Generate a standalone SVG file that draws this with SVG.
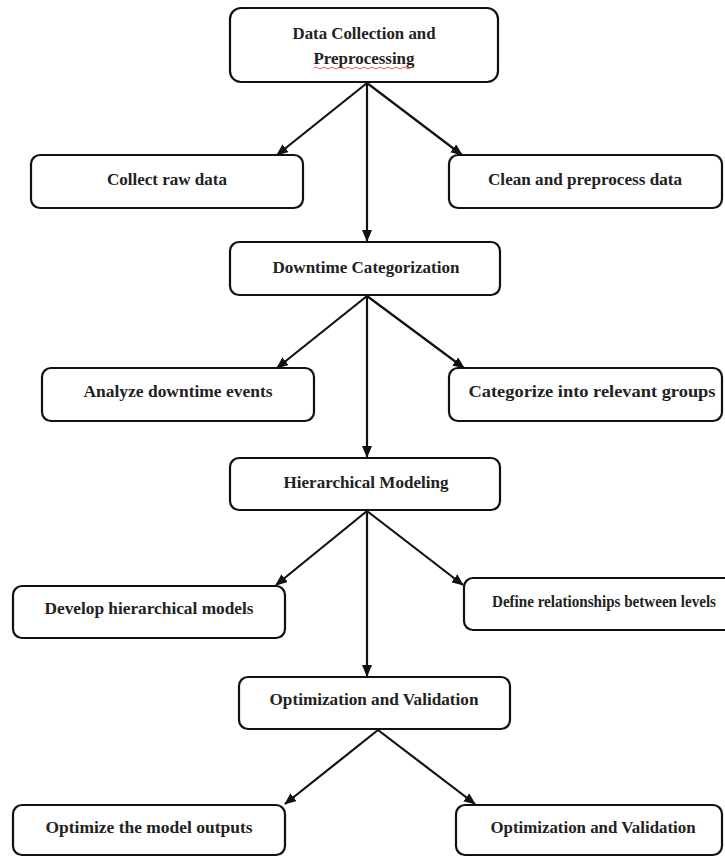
<svg xmlns="http://www.w3.org/2000/svg" width="725" height="857" viewBox="0 0 725 857">
<style>
.box{fill:#fff;stroke:#111;stroke-width:2.2}
.lbl{font-family:"Liberation Serif","Times New Roman",serif;font-weight:bold;font-size:17px;fill:#222;text-anchor:middle}
.con{stroke:#111;stroke-width:2.2;fill:none;marker-end:url(#ah)}
</style>
<defs>
<marker id="ah" markerUnits="userSpaceOnUse" markerWidth="12" markerHeight="10" refX="11" refY="5" orient="auto" viewBox="0 0 12 10">
<path d="M0,0 L12,5 L0,10 z" fill="#111"/>
</marker>
</defs>
<rect width="725" height="857" fill="#fff"/>
<g id="connectors">
<line class="con" x1="367" y1="83" x2="277" y2="155"/>
<line class="con" x1="367" y1="83" x2="462" y2="155"/>
<line class="con" x1="367" y1="83" x2="367" y2="241"/>
<line class="con" x1="367" y1="296" x2="277" y2="368"/>
<line class="con" x1="367" y1="296" x2="464" y2="368"/>
<line class="con" x1="367" y1="296" x2="367" y2="457"/>
<line class="con" x1="367" y1="511" x2="276" y2="585"/>
<line class="con" x1="367" y1="511" x2="463" y2="585"/>
<line class="con" x1="367" y1="511" x2="367" y2="676"/>
<line class="con" x1="378" y1="730" x2="285" y2="804"/>
<line class="con" x1="378" y1="730" x2="475" y2="804"/>
</g>
<g id="n-data-collection">
<rect class="box" x="230" y="8" width="268" height="74" rx="11"/>
<text class="lbl" x="364" y="39" textLength="143" lengthAdjust="spacingAndGlyphs">Data Collection and</text>
<text class="lbl" x="364" y="64" textLength="101" lengthAdjust="spacingAndGlyphs">Preprocessing</text>
<path d="M314,68 q2,-2 4,0 t4,0 t4,0 t4,0 t4,0 t4,0 t4,0 t4,0 t4,0 t4,0 t4,0 t4,0 t4,0 t4,0 t4,0 t4,0 t4,0 t4,0 t4,0 t4,0 t4,0 t4,0 t4,0 t4,0 t4,0" fill="none" stroke="#d33" stroke-width="0.8"/>
</g>
<g id="n-collect">
<rect class="box" x="31" y="155" width="272" height="53" rx="9"/>
<text class="lbl" x="167" y="185" textLength="120" lengthAdjust="spacingAndGlyphs">Collect raw data</text>
</g>
<g id="n-clean">
<rect class="box" x="449" y="155" width="273" height="53" rx="9"/>
<text class="lbl" x="585" y="185" textLength="194" lengthAdjust="spacingAndGlyphs">Clean and preprocess data</text>
</g>
<g id="n-downtime">
<rect class="box" x="230" y="242" width="270" height="53" rx="9"/>
<text class="lbl" x="366" y="273" textLength="187" lengthAdjust="spacingAndGlyphs">Downtime Categorization</text>
</g>
<g id="n-analyze">
<rect class="box" x="42" y="368" width="272" height="53" rx="9"/>
<text class="lbl" x="178" y="397" textLength="189" lengthAdjust="spacingAndGlyphs">Analyze downtime events</text>
</g>
<g id="n-categorize">
<rect class="box" x="449" y="368" width="273" height="53" rx="9"/>
<text class="lbl" x="592" y="397" textLength="247" lengthAdjust="spacingAndGlyphs">Categorize into relevant groups</text>
</g>
<g id="n-hierarchical">
<rect class="box" x="230" y="458" width="270" height="52" rx="9"/>
<text class="lbl" x="366" y="488" textLength="165" lengthAdjust="spacingAndGlyphs">Hierarchical  Modeling</text>
</g>
<g id="n-develop">
<rect class="box" x="13" y="586" width="272" height="52" rx="9"/>
<text class="lbl" x="149" y="614" textLength="209" lengthAdjust="spacingAndGlyphs">Develop hierarchical  models</text>
</g>
<g id="n-define">
<rect class="box" x="464" y="578" width="272" height="52" rx="9"/>
<text class="lbl" x="604" y="607" textLength="224" lengthAdjust="spacingAndGlyphs">Define relationships between levels</text>
</g>
<g id="n-optimization">
<rect class="box" x="239" y="677" width="271" height="52" rx="9"/>
<text class="lbl" x="374" y="705" textLength="209" lengthAdjust="spacingAndGlyphs">Optimization and Validation</text>
</g>
<g id="n-optimize-outputs">
<rect class="box" x="13" y="805" width="272" height="50" rx="9"/>
<text class="lbl" x="149" y="833" textLength="207" lengthAdjust="spacingAndGlyphs">Optimize the model outputs</text>
</g>
<g id="n-optimization-validation">
<rect class="box" x="456" y="805" width="266" height="50" rx="9"/>
<text class="lbl" x="593" y="833" textLength="205" lengthAdjust="spacingAndGlyphs">Optimization and Validation</text>
</g>
</svg>
